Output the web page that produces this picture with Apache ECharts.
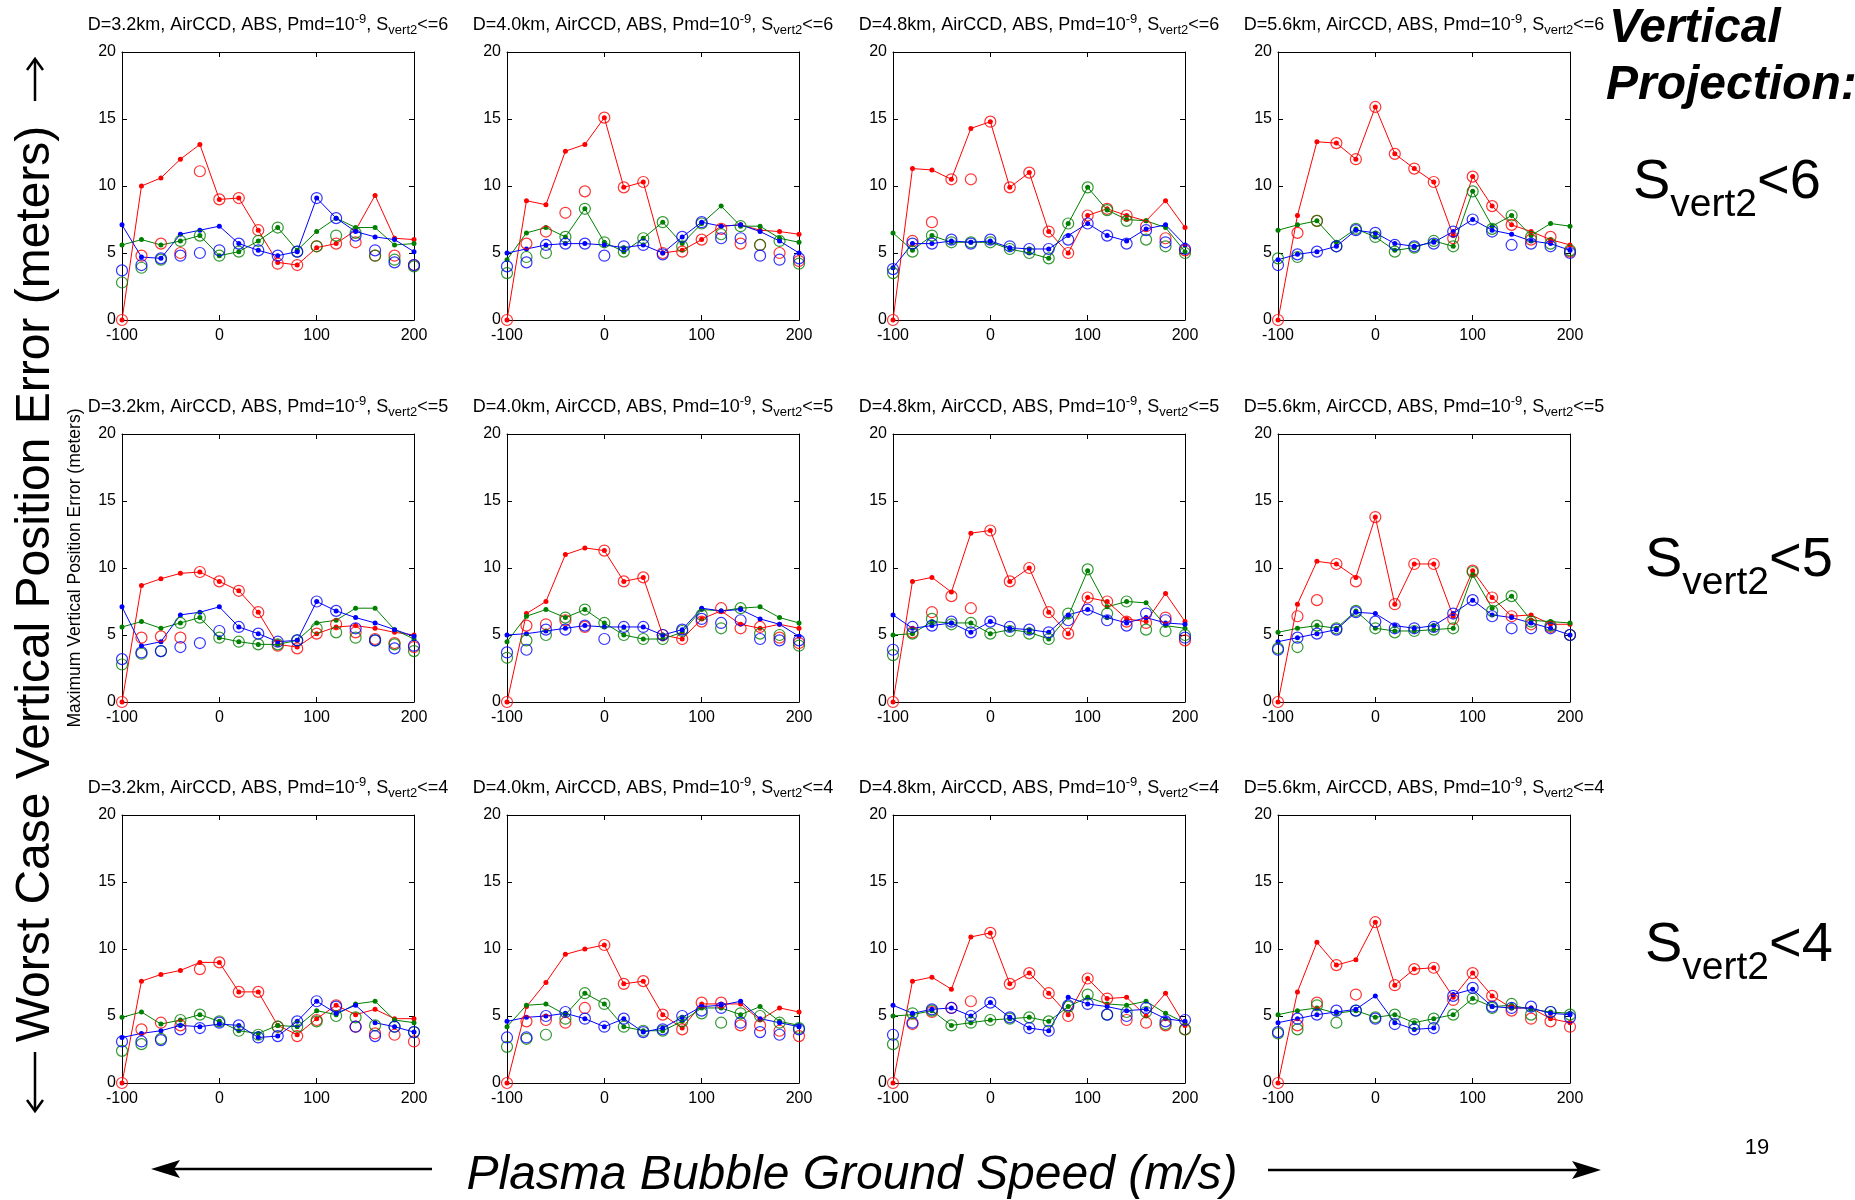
<!DOCTYPE html>
<html><head><meta charset="utf-8">
<script src="https://cdn.jsdelivr.net/npm/echarts@6/dist/echarts.min.js"></script>
<style>html,body{margin:0;padding:0;background:#fff}#c{width:1855px;height:1200px}</style>
</head><body><div id="c"></div>
<script>
// ---------------- DATA ----------------
const speeds = [-100,-80,-60,-40,-20,0,20,40,60,80,100,120,140,160,180,200];
const xTicks = [-100,0,100,200];
const yTicks = [0,5,10,15,20];
const distances = ['3.2','4.0','4.8','5.6'];
const svertLimits = [6,5,4];

// S_vert2 <= 6
const s6d32_red    = [0,10.0,10.6,12.0,13.1,9.0,9.1,6.7,4.3,4.1,5.4,5.7,6.7,9.3,6.1,6.0];
const s6d32_redO   = [0,4.8,5.7,5.0,11.1,9.0,9.1,6.7,4.2,4.1,5.5,5.7,5.8,4.8,4.8,4.1];
const s6d32_green  = [5.6,6.0,5.6,5.9,6.3,4.8,5.1,5.9,6.9,5.2,6.6,7.6,6.9,6.9,5.6,5.7];
const s6d32_greenO = [2.8,3.9,4.5,5.9,6.3,4.8,5.1,5.9,6.9,5.1,5.5,6.3,6.5,4.8,4.5,4.0];
const s6d32_blue   = [7.1,4.7,4.6,6.4,6.7,7.0,5.7,5.2,4.8,5.1,9.1,7.6,6.6,6.2,6.0,5.1];
const s6d32_blueO  = [3.7,4.1,4.6,4.8,5.0,5.2,5.7,5.2,4.8,5.1,9.1,7.6,6.3,5.2,4.3,4.1];

const s6d40_red    = [0,8.9,8.6,12.6,13.1,15.1,9.9,10.3,5.0,5.2,6.0,7.0,7.1,6.7,6.6,6.4];
const s6d40_redO   = [0,5.7,6.6,8.0,9.6,15.1,9.9,10.3,5.0,5.1,6.0,6.8,5.7,5.6,5.0,4.4];
const s6d40_green  = [4.5,6.5,6.9,6.2,8.3,5.8,5.1,6.1,7.3,5.7,7.2,8.5,7.0,7.0,6.1,5.8];
const s6d40_greenO = [3.5,4.7,5.0,6.2,8.3,5.8,5.1,6.1,7.3,5.5,7.2,6.4,7.0,5.6,5.9,4.2];
const s6d40_blue   = [5.0,5.3,5.6,5.7,5.7,5.6,5.4,5.6,5.0,6.2,7.3,7.0,7.1,6.6,5.9,5.0];
const s6d40_blueO  = [4.0,4.3,5.6,5.7,5.7,4.8,5.5,5.6,4.9,6.2,7.3,6.1,6.1,4.8,4.5,4.6];

const s6d48_red    = [0,11.3,11.2,10.5,14.3,14.8,9.9,11.0,6.6,5.0,7.8,8.3,7.8,7.4,8.9,6.9];
const s6d48_redO   = [0,5.9,7.3,10.5,10.5,14.8,9.9,11.0,6.6,5.0,7.8,8.3,7.8,7.0,6.1,5.2];
const s6d48_green  = [6.5,5.2,6.3,5.8,5.8,5.8,5.3,5.0,4.6,7.2,9.9,8.2,7.5,7.4,6.9,5.1];
const s6d48_greenO = [3.5,5.1,6.3,5.8,5.8,5.8,5.3,5.0,4.6,7.2,9.9,8.2,7.4,6.0,5.5,5.0];
const s6d48_blue   = [3.9,5.7,5.7,5.9,5.8,5.9,5.4,5.3,5.3,6.3,7.2,6.3,5.9,6.8,7.1,5.6];
const s6d48_blueO  = [3.8,5.7,5.7,6.0,5.7,6.0,5.5,5.3,5.3,6.0,7.2,6.3,5.7,6.7,5.8,5.3];

const s6d56_red    = [0,7.8,13.3,13.2,12.0,15.9,12.4,11.3,10.3,6.3,10.7,8.5,7.1,6.6,6.0,5.6];
const s6d56_redO   = [0,6.5,7.4,13.2,12.0,15.9,12.4,11.3,10.3,6.1,10.7,8.5,7.1,6.0,6.2,5.1];
const s6d56_green  = [6.7,7.1,7.4,5.8,6.8,6.2,5.2,5.4,5.9,5.5,9.6,7.0,7.8,6.3,7.2,7.0];
const s6d56_greenO = [4.6,4.7,7.4,5.5,6.8,6.2,5.1,5.4,5.9,5.5,9.6,6.8,7.8,6.2,5.7,5.2];
const s6d56_blue   = [4.5,4.9,5.1,5.5,6.7,6.5,5.7,5.5,5.8,6.6,7.5,6.7,6.4,5.9,5.7,5.2];
const s6d56_blueO  = [4.1,4.9,5.1,5.5,6.7,6.5,5.6,5.5,5.7,6.6,7.5,6.6,5.6,5.7,5.5,5.0];

// S_vert2 <= 5
const s5d32_red    = [0,8.7,9.2,9.6,9.7,9.0,8.3,6.7,4.3,4.1,5.1,5.6,5.7,5.5,5.2,5.0];
const s5d32_redO   = [0,4.8,4.9,4.8,9.7,9.0,8.3,6.7,4.2,4.0,5.1,5.8,5.2,4.7,4.4,4.1];
const s5d32_green  = [5.6,6.0,5.5,5.9,6.3,4.8,4.5,4.3,4.3,4.6,5.9,6.1,7.0,7.0,5.4,4.7];
const s5d32_greenO = [2.8,3.6,3.8,5.9,6.3,4.8,4.5,4.3,4.3,4.6,5.5,5.2,4.8,4.6,4.3,3.8];
const s5d32_blue   = [7.1,4.2,4.5,6.5,6.7,7.1,5.6,5.1,4.5,4.6,7.5,6.8,6.3,5.9,5.4,4.9];
const s5d32_blueO  = [3.2,3.7,3.8,4.1,4.4,5.3,5.6,5.1,4.5,4.6,7.5,6.8,5.5,4.6,4.0,4.2];

const s5d40_red    = [0,6.6,7.5,11.0,11.5,11.3,9.0,9.3,5.0,4.7,6.2,6.8,5.8,5.5,5.8,5.5];
const s5d40_redO   = [0,5.7,5.8,6.1,5.6,11.3,9.0,9.3,5.0,4.7,6.0,7.0,5.5,5.6,4.8,4.4];
const s5d40_green  = [4.5,6.4,6.9,6.3,6.9,5.9,5.0,4.7,4.7,5.2,6.9,6.8,7.0,7.1,6.3,5.9];
const s5d40_greenO = [3.3,4.6,5.0,6.3,6.9,5.9,5.0,4.7,4.7,5.3,6.5,5.5,7.0,5.1,5.0,4.2];
const s5d40_blue   = [5.0,5.1,5.3,5.5,5.7,5.6,5.6,5.6,5.0,5.4,7.0,6.8,6.9,6.2,5.8,4.9];
const s5d40_blueO  = [3.7,3.9,5.4,5.4,5.7,4.7,5.6,5.6,5.0,5.4,6.2,5.9,6.1,4.7,4.6,4.6];

const s5d48_red    = [0,9.0,9.3,8.2,12.6,12.8,9.0,10.0,6.7,5.1,7.8,7.5,6.2,6.0,8.1,6.0];
const s5d48_redO   = [0,5.2,6.7,7.9,7.0,12.8,9.0,10.0,6.7,5.1,7.8,7.5,6.0,5.9,6.3,4.6];
const s5d48_green  = [5.0,5.1,6.0,5.9,5.9,5.1,5.4,5.2,4.7,6.4,9.8,7.1,7.5,7.4,5.7,5.5];
const s5d48_greenO = [3.5,5.1,6.2,5.8,5.9,5.1,5.3,5.1,4.7,6.6,9.9,6.6,7.5,5.4,5.3,5.0];
const s5d48_blue   = [6.5,5.5,5.7,5.9,5.2,6.0,5.5,5.4,5.2,6.5,6.9,6.3,5.9,6.3,5.9,5.8];
const s5d48_blueO  = [3.9,5.6,5.7,6.0,5.2,6.0,5.6,5.4,5.2,6.1,6.9,6.1,5.7,6.6,6.1,4.8];

const s5d56_red    = [0,7.3,10.5,10.3,9.3,13.8,7.3,10.3,10.3,6.4,9.8,7.8,6.4,6.5,5.8,5.8];
const s5d56_redO   = [0,6.4,7.6,10.3,9.0,13.8,7.3,10.3,10.3,6.2,9.8,7.8,6.4,5.8,5.6,5.0];
const s5d56_green  = [5.2,5.5,5.7,5.5,6.8,5.5,5.3,5.3,5.4,5.5,9.5,7.0,7.9,6.1,6.0,5.9];
const s5d56_greenO = [4.0,4.1,5.7,5.5,6.8,5.5,5.2,5.3,5.4,5.5,9.7,6.8,7.9,6.0,5.7,5.0];
const s5d56_blue   = [4.5,4.8,5.1,5.4,6.7,6.6,5.7,5.5,5.7,6.6,7.6,6.5,6.3,5.9,5.5,5.0];
const s5d56_blueO  = [3.9,4.8,5.1,5.4,6.7,6.0,5.5,5.5,5.6,6.6,7.6,6.4,5.5,5.5,5.5,5.0];

// S_vert2 <= 4
const s4d32_red    = [0,7.6,8.1,8.4,9.0,9.0,6.8,6.8,4.3,3.6,4.8,5.8,5.1,5.5,4.8,4.8];
const s4d32_redO   = [0,4.0,4.5,4.3,8.5,9.0,6.8,6.8,4.2,3.5,4.7,5.8,4.2,3.7,3.6,3.1];
const s4d32_green  = [4.9,5.3,4.4,4.7,5.1,4.6,3.9,3.7,4.3,4.2,5.4,5.1,5.9,6.1,4.7,4.5];
const s4d32_greenO = [2.4,2.9,3.3,4.7,5.1,4.6,3.9,3.6,4.2,4.2,4.6,5.0,4.9,4.3,4.2,3.8];
const s4d32_blue   = [3.4,3.7,3.9,4.3,4.2,4.4,4.3,3.4,3.5,4.6,6.1,5.2,5.8,4.5,4.2,3.8];
const s4d32_blueO  = [3.1,3.1,3.2,4.0,4.1,4.5,4.3,3.4,3.5,4.6,6.1,5.7,4.2,3.5,4.2,3.8];

const s4d40_red    = [0,5.7,7.5,9.6,10.0,10.3,7.4,7.6,5.1,4.1,5.9,5.9,5.9,4.7,5.6,5.3];
const s4d40_redO   = [0,4.6,4.7,4.5,5.6,10.3,7.4,7.6,5.1,4.0,6.0,6.0,4.3,4.3,3.9,3.5];
const s4d40_green  = [4.2,5.8,5.9,5.1,6.7,5.9,4.2,3.9,3.9,4.6,5.6,5.6,5.1,5.7,4.6,4.3];
const s4d40_greenO = [2.7,3.3,3.6,4.8,6.7,5.9,4.2,3.9,3.9,4.6,5.2,4.5,5.2,5.0,4.5,4.1];
const s4d40_blue   = [4.6,4.9,5.0,5.2,4.8,4.2,4.8,3.8,4.1,4.9,5.7,5.8,6.1,4.8,4.5,4.2];
const s4d40_blueO  = [3.4,3.4,5.0,5.3,4.8,4.2,4.8,3.8,4.0,5.0,5.4,5.6,4.5,3.8,3.6,4.0];

const s4d48_red    = [0,7.6,7.9,7.0,10.9,11.2,7.4,8.2,6.7,5.1,7.8,6.3,6.4,5.0,6.7,4.3];
const s4d48_redO   = [0,4.4,5.3,5.6,6.1,11.2,7.4,8.2,6.7,5.0,7.8,6.3,4.7,4.5,4.3,4.0];
const s4d48_green  = [5.0,5.1,5.4,4.3,4.5,4.7,4.8,4.9,4.6,5.7,6.4,5.9,5.8,6.1,5.2,4.5];
const s4d48_greenO = [2.9,5.2,5.4,4.3,4.5,4.7,4.8,4.9,4.6,5.7,6.6,5.1,5.3,5.3,4.4,4.0];
const s4d48_blue   = [5.8,5.2,5.5,5.6,5.0,6.0,4.9,4.1,3.9,6.4,5.9,5.7,5.4,5.5,4.8,4.6];
const s4d48_blueO  = [3.6,4.5,5.5,5.6,5.0,6.0,4.9,4.1,3.9,5.8,5.9,5.1,5.0,5.6,4.6,4.7];

const s4d56_red    = [0,6.8,10.5,8.8,9.2,12.0,7.3,8.5,8.6,6.4,8.2,6.5,5.6,5.6,4.8,4.5];
const s4d56_redO   = [0,4.3,6.0,8.8,6.6,12.0,7.3,8.5,8.6,6.2,8.2,6.5,5.4,4.8,4.6,4.2];
const s4d56_green  = [5.1,5.4,5.6,5.2,5.4,4.9,5.1,4.5,4.8,5.1,6.3,5.7,5.8,5.5,5.3,5.2];
const s4d56_greenO = [3.7,4.0,5.8,4.5,5.4,4.9,5.1,4.4,4.8,5.1,6.3,5.6,5.9,5.1,5.3,5.1];
const s4d56_blue   = [4.5,4.8,5.1,5.3,5.5,6.5,4.5,4.0,4.1,6.6,7.0,5.7,5.6,5.6,5.2,5.1];
const s4d56_blueO  = [3.8,4.8,5.1,5.4,5.4,4.8,4.4,4.0,4.1,6.5,7.1,5.7,5.6,5.7,5.3,4.9];

// ---------------- BUILD ----------------
const panelData = [
  [[s6d32_red,s6d32_redO,s6d32_green,s6d32_greenO,s6d32_blue,s6d32_blueO],
   [s6d40_red,s6d40_redO,s6d40_green,s6d40_greenO,s6d40_blue,s6d40_blueO],
   [s6d48_red,s6d48_redO,s6d48_green,s6d48_greenO,s6d48_blue,s6d48_blueO],
   [s6d56_red,s6d56_redO,s6d56_green,s6d56_greenO,s6d56_blue,s6d56_blueO]],
  [[s5d32_red,s5d32_redO,s5d32_green,s5d32_greenO,s5d32_blue,s5d32_blueO],
   [s5d40_red,s5d40_redO,s5d40_green,s5d40_greenO,s5d40_blue,s5d40_blueO],
   [s5d48_red,s5d48_redO,s5d48_green,s5d48_greenO,s5d48_blue,s5d48_blueO],
   [s5d56_red,s5d56_redO,s5d56_green,s5d56_greenO,s5d56_blue,s5d56_blueO]],
  [[s4d32_red,s4d32_redO,s4d32_green,s4d32_greenO,s4d32_blue,s4d32_blueO],
   [s4d40_red,s4d40_redO,s4d40_green,s4d40_greenO,s4d40_blue,s4d40_blueO],
   [s4d48_red,s4d48_redO,s4d48_green,s4d48_greenO,s4d48_blue,s4d48_blueO],
   [s4d56_red,s4d56_redO,s4d56_green,s4d56_greenO,s4d56_blue,s4d56_blueO]]
];

const FONT = '"Liberation Sans", Arial, sans-serif';
const colors = ['#ff0000', '#008000', '#0000ff'];
const gridLefts = [122, 507, 893, 1278];
const gridTops = [52, 434, 815];
const gridW = 292, gridH = 268;

const grids = [], xAxes = [], yAxes = [], series = [], graphics = [];

// text measuring for composed super/subscript labels
const mctx = document.createElement('canvas').getContext('2d');
function textWidth(t, font) { mctx.font = font; return mctx.measureText(t).width; }
// parts: [{t, size, dy}] ; draws pieces left to right
function composed(parts, x, y, align, extraFont) {
  const fonts = parts.map(p => (extraFont || '') + p.size + 'px ' + FONT);
  const widths = parts.map((p, i) => textWidth(p.t, fonts[i]));
  const total = widths.reduce((a, b) => a + b, 0);
  let cx = align === 'center' ? x - total / 2 : x;
  parts.forEach((p, i) => {
    graphics.push({ type: 'text', x: cx, y: y + p.dy,
      style: { legacy: false, text: p.t, align: 'left', verticalAlign: 'middle', fill: '#000', font: fonts[i] } });
    cx += widths[i];
  });
}

function axisCommon(extra) {
  return Object.assign({
    type: 'value',
    axisLine: { show: true, onZero: false, lineStyle: { color: '#000', width: 1 } },
    axisTick: { show: true, inside: true, length: 5, lineStyle: { color: '#000', width: 1 } },
    splitLine: { show: false },
    axisLabel: { color: '#000', fontSize: 16, fontFamily: FONT, showMinLabel: true, showMaxLabel: true }
  }, extra);
}

let k = 0;
for (let r = 0; r < 3; r++) {
  for (let c = 0; c < 4; c++) {
    const left = gridLefts[c], top = gridTops[r];
    grids.push({ left: left, top: top, width: gridW, height: gridH, show: false });
    xAxes.push(axisCommon({ gridIndex: k, position: 'bottom', min: xTicks[0], max: xTicks[xTicks.length-1], interval: 100,
      axisLabel: { color: '#000', fontSize: 16, fontFamily: FONT, margin: 8, showMinLabel: true, showMaxLabel: true } }));
    xAxes.push(axisCommon({ gridIndex: k, position: 'top', min: xTicks[0], max: xTicks[xTicks.length-1], interval: 100,
      axisLabel: { show: false } }));
    yAxes.push(axisCommon({ gridIndex: k, position: 'left', min: yTicks[0], max: yTicks[yTicks.length-1], interval: 5,
      axisLabel: { color: '#000', fontSize: 16, fontFamily: FONT, margin: 6, showMinLabel: true, showMaxLabel: true } }));
    yAxes.push(axisCommon({ gridIndex: k, position: 'right', min: yTicks[0], max: yTicks[yTicks.length-1], interval: 5,
      axisLabel: { show: false } }));

    const sets = panelData[r][c];
    for (let ci = 0; ci < 3; ci++) {
      const col = colors[ci];
      const lineVals = sets[ci*2], circVals = sets[ci*2+1];
      series.push({
        type: 'line', xAxisIndex: 2*k, yAxisIndex: 2*k,
        data: speeds.map((x, i) => [x, lineVals[i]]),
        symbol: 'circle', symbolSize: 5, showSymbol: true,
        lineStyle: { color: col, width: 1 }, itemStyle: { color: col },
        animation: false, silent: true, z: 3
      });
      series.push({
        type: 'scatter', xAxisIndex: 2*k, yAxisIndex: 2*k,
        data: speeds.map((x, i) => [x, circVals[i]]),
        symbol: 'circle', symbolSize: 11,
        itemStyle: { color: 'rgba(0,0,0,0)', borderColor: col, borderWidth: 1.2 },
        animation: false, silent: true, z: 4
      });
    }

    // panel title with superscript / subscript
    composed([
      { t: 'D=' + distances[c] + 'km, AirCCD, ABS, Pmd=10', size: 18, dy: 0 },
      { t: '-9', size: 13, dy: -6 },
      { t: ', S', size: 18, dy: 0 },
      { t: 'vert2', size: 13, dy: 5 },
      { t: '<=' + svertLimits[r], size: 18, dy: 0 }
    ], left + gridW / 2, top - 27, 'center');
    k++;
  }
}

// S_vert2 < N labels on the right
const svertMidY = [183, 561, 946];
const svertX = [1633, 1645, 1645];
for (let r = 0; r < 3; r++) {
  composed([
    { t: 'S', size: 56, dy: 0 },
    { t: 'vert2', size: 39, dy: 22 },
    { t: '<' + svertLimits[r], size: 56, dy: 0 }
  ], svertX[r], svertMidY[r], 'left');
}

// Big axis labels and annotations
graphics.push(
  { type: 'text', x: 36, y: 584, rotation: Math.PI / 2,
    style: { legacy: false, text: 'Worst Case Vertical Position Error (meters)', align: 'center', verticalAlign: 'middle',
      fill: '#000', font: '48px ' + FONT } },
  // vertical arrows beside the big label
  { type: 'line', shape: { x1: 35, y1: 101, x2: 35, y2: 60 }, style: { stroke: '#000', lineWidth: 2.5 } },
  { type: 'polyline', shape: { points: [[27,70],[35,59],[43,70]] }, style: { stroke: '#000', lineWidth: 2.5, fill: null } },
  { type: 'line', shape: { x1: 35, y1: 1052, x2: 35, y2: 1110 }, style: { stroke: '#000', lineWidth: 2.5 } },
  { type: 'polyline', shape: { points: [[27,1100],[35,1111],[43,1100]] }, style: { stroke: '#000', lineWidth: 2.5, fill: null } },
  { type: 'text', x: 75, y: 568, rotation: Math.PI / 2,
    style: { legacy: false, text: 'Maximum Vertical Position Error (meters)', align: 'center', verticalAlign: 'middle',
      fill: '#000', font: '17.5px ' + FONT } },
  { type: 'text', x: 852, y: 1176,
    style: { legacy: false, text: 'Plasma Bubble Ground Speed (m/s)', align: 'center', verticalAlign: 'middle',
      fill: '#000', font: 'italic 48px ' + FONT } },
  { type: 'text', x: 1609, y: 29,
    style: { legacy: false, text: 'Vertical', align: 'left', verticalAlign: 'middle',
      fill: '#000', font: 'italic bold 48px ' + FONT } },
  { type: 'text', x: 1606, y: 86,
    style: { legacy: false, text: 'Projection:', align: 'left', verticalAlign: 'middle',
      fill: '#000', font: 'italic bold 48px ' + FONT } },
  { type: 'text', x: 1757, y: 1148,
    style: { legacy: false, text: '19', align: 'center', verticalAlign: 'middle',
      fill: '#000', font: '22px ' + FONT } },
  // bottom arrows
  { type: 'line', shape: { x1: 170, y1: 1169, x2: 432, y2: 1169 }, style: { stroke: '#000', lineWidth: 2.5 } },
  { type: 'polygon', shape: { points: [[151,1169],[180,1160],[174,1169],[180,1178]] }, style: { fill: '#000' } },
  { type: 'line', shape: { x1: 1268, y1: 1170, x2: 1582, y2: 1170 }, style: { stroke: '#000', lineWidth: 2.5 } },
  { type: 'polygon', shape: { points: [[1601,1170],[1572,1161],[1578,1170],[1572,1179]] }, style: { fill: '#000' } }
);

const chart = echarts.init(document.getElementById('c'), null, { renderer: 'canvas' });
chart.setOption({
  backgroundColor: '#fff',
  animation: false,
  grid: grids,
  xAxis: xAxes,
  yAxis: yAxes,
  series: series,
  graphic: { elements: graphics }
});
</script>
</body></html>
